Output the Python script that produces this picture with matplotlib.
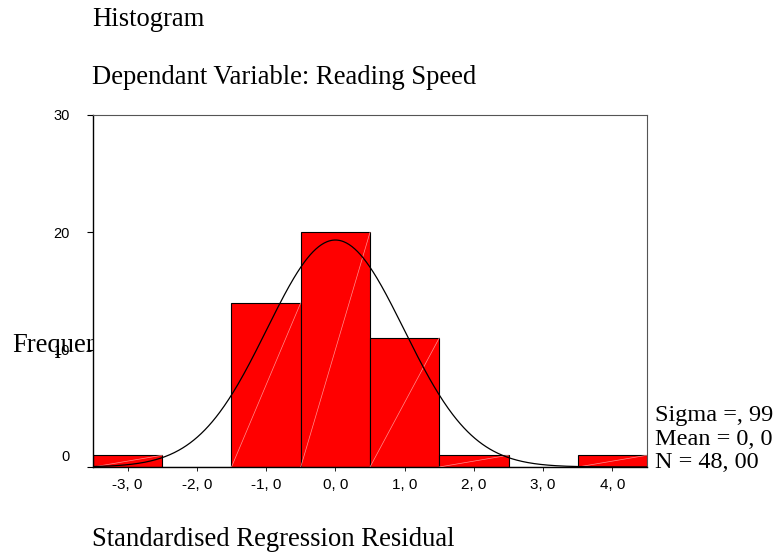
import matplotlib.pyplot as plt
import matplotlib.transforms as mtransforms
import numpy as np

# histogram bins (centres) and counts
bin_centres = [-3, -2, -1, 0, 1, 2, 3, 4]
counts = [1, 0, 14, 20, 11, 1, 0, 1]
tick_values = [-3, -2, -1, 0, 1, 2, 3, 4]
tick_labels = ["-3, 0", "-2, 0", "-1, 0", "0, 0", "1, 0", "2, 0", "3, 0", "4, 0"]
y_ticks = [0, 10, 20, 30]

sigma = 0.99
mean = 0.0
n_obs = 48
stats_lines = ["Sigma =, 99", "Mean = 0, 0", "N = 48, 00"]

serif = ["Liberation Serif", "DejaVu Serif"]
sans = ["Liberation Sans", "DejaVu Sans"]
big = 19.2

fig = plt.figure(figsize=(7.84, 5.56), dpi=100)
ax = fig.add_axes([0.1186, 0.1601, 0.7067, 0.6331])

ax.bar(bin_centres, counts, width=1.0, color="#ff0000", edgecolor="black",
       linewidth=0.8, zorder=2)
# faint diagonal streaks inside the bars
for c, h in zip(bin_centres, counts):
    if h > 0:
        ax.plot([c - 0.5, c + 0.5], [0, h], color="#ff9090", lw=0.5, zorder=3)

# fitted normal curve
xs = np.linspace(-3.5, 4.5, 600)
ys = n_obs * 1.0 / (sigma * np.sqrt(2 * np.pi)) * np.exp(-0.5 * ((xs - mean) / sigma) ** 2)
ax.plot(xs, ys, color="black", lw=0.9, zorder=4)

ax.set_xlim(-3.5, 4.5)
ax.set_ylim(0, 30)
ax.set_xticks(tick_values)
ax.set_xticklabels(tick_labels, family=sans, fontsize=11)
ax.set_yticks(y_ticks)
ax.set_yticklabels([str(v) for v in y_ticks], family=sans, fontsize=10.5)
ax.tick_params(axis="x", length=3, width=0.6, pad=5)
ax.tick_params(axis="y", length=4.5, width=0.8, pad=12)
# the "0" label sits a little above its tick in the original
lab0 = ax.get_yticklabels()[0]
lab0.set_transform(lab0.get_transform() +
                   mtransforms.ScaledTranslation(0, 11 / 100, fig.dpi_scale_trans))
for sp in ["top", "right"]:
    ax.spines[sp].set_color("#555555")
    ax.spines[sp].set_linewidth(0.8)
ax.spines["left"].set_linewidth(1.0)
ax.spines["bottom"].set_linewidth(1.0)

# y label sits behind the axes so the plot area cuts it off, as in the original
fig.text(12 / 784, 1 - 345 / 556, "Frequency", family=serif, fontsize=big,
         va="center", zorder=-1)

fig.text(92 / 784, 1 - 20 / 556, "Histogram", family=serif, fontsize=big, va="center")
fig.text(92 / 784, 1 - 77 / 556, "Dependant Variable: Reading Speed", family=serif,
         fontsize=big, va="center")
fig.text(92 / 784, 1 - 540 / 556, "Standardised Regression Residual", family=serif,
         fontsize=big, va="center")

for i, line in enumerate(stats_lines):
    fig.text(655 / 784, 1 - (416 + i * 23.5) / 556, line, family=serif, fontsize=17.5,
             va="center")

fig.savefig("out.png", dpi=100)
